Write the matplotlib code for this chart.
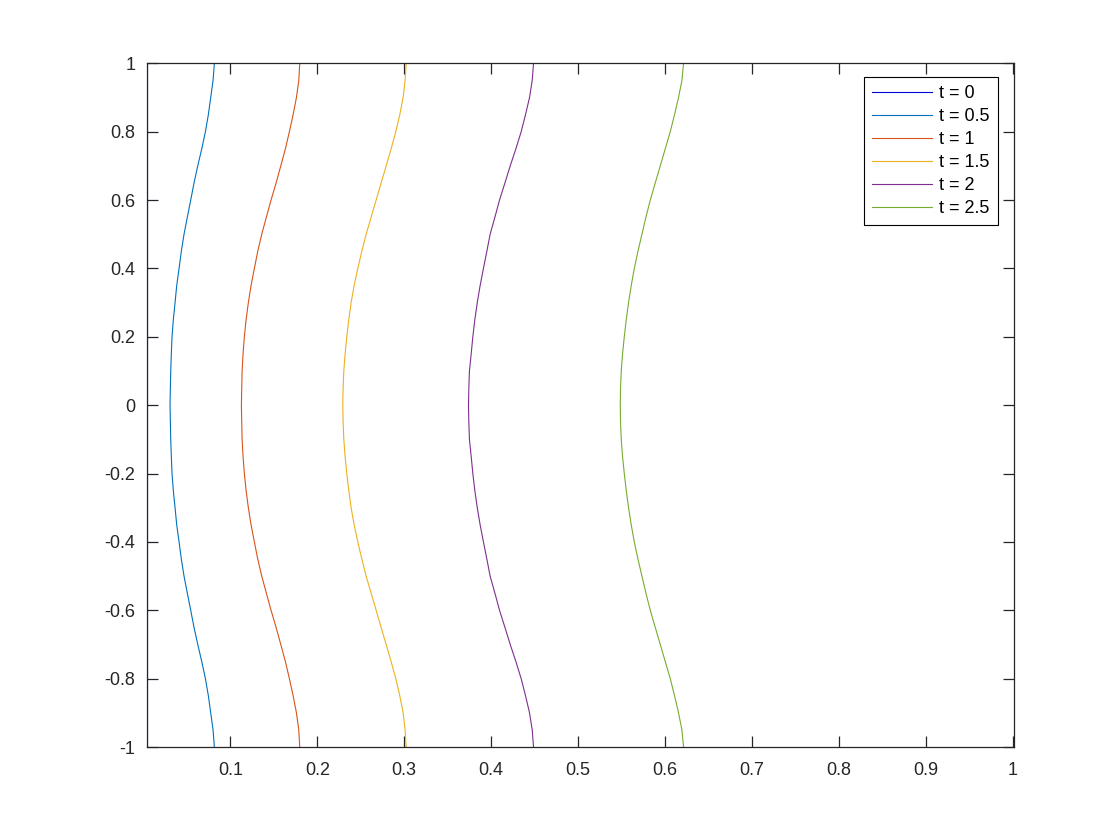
import matplotlib
matplotlib.use('Agg')
import matplotlib.pyplot as plt

plt.rcParams['font.family'] = ['Liberation Sans', 'DejaVu Sans']

# y positions (same for every curve)
y = [-1.0, -0.95, -0.9, -0.85, -0.8, -0.75, -0.7, -0.65, -0.6, -0.55, -0.5,
     -0.45, -0.4, -0.35, -0.3, -0.25, -0.2, -0.15, -0.1, -0.05, 0.0,
     0.05, 0.1, 0.15, 0.2, 0.25, 0.3, 0.35, 0.4, 0.45, 0.5,
     0.55, 0.6, 0.65, 0.7, 0.75, 0.8, 0.85, 0.9, 0.95, 1.0]

# x positions for each time
x_t0 = [0.0038] * 41
x_t05 = [0.0816, 0.0801, 0.0774, 0.0747, 0.0713, 0.0671, 0.0625, 0.0582, 0.0544, 0.0505, 0.0467,
         0.0436, 0.0410, 0.0383, 0.0364, 0.0344, 0.0329, 0.0321, 0.0314, 0.0310, 0.0306,
         0.0310, 0.0314, 0.0321, 0.0329, 0.0344, 0.0364, 0.0383, 0.0410, 0.0436, 0.0467,
         0.0505, 0.0544, 0.0582, 0.0625, 0.0671, 0.0713, 0.0747, 0.0774, 0.0801, 0.0816]
x_t1 = [0.1798, 0.1787, 0.1760, 0.1722, 0.1679, 0.1633, 0.1580, 0.1526, 0.1468, 0.1414, 0.1361,
        0.1315, 0.1276, 0.1238, 0.1207, 0.1181, 0.1161, 0.1146, 0.1135, 0.1131, 0.1127,
        0.1131, 0.1135, 0.1146, 0.1161, 0.1181, 0.1207, 0.1238, 0.1276, 0.1315, 0.1361,
        0.1414, 0.1468, 0.1526, 0.1580, 0.1633, 0.1679, 0.1722, 0.1760, 0.1787, 0.1798]
x_t15 = [0.3022, 0.3010, 0.2987, 0.2949, 0.2903, 0.2849, 0.2792, 0.2734, 0.2677, 0.2619, 0.2562,
         0.2512, 0.2466, 0.2424, 0.2389, 0.2362, 0.2339, 0.2320, 0.2305, 0.2297, 0.2293,
         0.2297, 0.2305, 0.2320, 0.2339, 0.2362, 0.2389, 0.2424, 0.2466, 0.2512, 0.2562,
         0.2619, 0.2677, 0.2734, 0.2792, 0.2849, 0.2903, 0.2949, 0.2987, 0.3010, 0.3022]
x_t2 = [0.4487, 0.4472, 0.4441, 0.4395, 0.4345, 0.4284, 0.4219, 0.4158, 0.4096, 0.4043, 0.3988,
        0.3950, 0.3911, 0.3873, 0.3840, 0.3812, 0.3789, 0.3770, 0.3750, 0.3743, 0.3739,
        0.3743, 0.3750, 0.3770, 0.3789, 0.3812, 0.3840, 0.3873, 0.3911, 0.3950, 0.3988,
        0.4043, 0.4096, 0.4158, 0.4219, 0.4284, 0.4345, 0.4395, 0.4441, 0.4472, 0.4487]
x_t25 = [0.6213, 0.6194, 0.6155, 0.6109, 0.6060, 0.6002, 0.5945, 0.5887, 0.5830, 0.5780, 0.5734,
         0.5688, 0.5646, 0.5611, 0.5580, 0.5554, 0.5531, 0.5511, 0.5496, 0.5488, 0.5485,
         0.5488, 0.5496, 0.5511, 0.5531, 0.5554, 0.5580, 0.5611, 0.5646, 0.5688, 0.5734,
         0.5780, 0.5830, 0.5887, 0.5945, 0.6002, 0.6060, 0.6109, 0.6155, 0.6194, 0.6213]

labels = ['t = 0', 't = 0.5', 't = 1', 't = 1.5', 't = 2', 't = 2.5']
colors = [(0, 0, 0.85), (0, 0.447, 0.741), (0.85, 0.325, 0.098),
          (0.929, 0.694, 0.125), (0.494, 0.184, 0.556), (0.466, 0.674, 0.188)]
curves = [x_t0, x_t05, x_t1, x_t15, x_t2, x_t25]

fig = plt.figure(figsize=(11.2, 8.4), dpi=100)
ax = fig.add_axes([0.131, 0.1107, 0.7747, 0.8139])

for xs, c, lab in zip(curves, colors, labels):
    ax.plot(xs, y, color=c, lw=0.8, label=lab)

ax.set_xlim(0.0038, 1.0018)
ax.set_ylim(-1, 1)
ax.set_xticks([0.1, 0.2, 0.3, 0.4, 0.5, 0.6, 0.7, 0.8, 0.9, 1.0])
ax.set_xticklabels(['0.1', '0.2', '0.3', '0.4', '0.5', '0.6', '0.7', '0.8', '0.9', '1'])
ax.set_yticks([-1, -0.8, -0.6, -0.4, -0.2, 0, 0.2, 0.4, 0.6, 0.8, 1])
ax.set_yticklabels(['-1', '-0.8', '-0.6', '-0.4', '-0.2', '0', '0.2', '0.4', '0.6', '0.8', '1'])

axcol = (0.15, 0.15, 0.15)
for s in ax.spines.values():
    s.set_color(axcol)
    s.set_linewidth(0.9)
ax.tick_params(direction='in', length=8, width=0.9, color=axcol, labelcolor=axcol,
               labelsize=13, top=True, right=True, pad=8)
ax.tick_params(axis='x', pad=11)

leg = ax.legend(loc='upper right', bbox_to_anchor=(0.981, 0.980), borderaxespad=0,
                fontsize=13, handlelength=3.3, handletextpad=0.4, labelspacing=0.33,
                fancybox=False, framealpha=1, edgecolor='black', borderpad=0.45)
leg.get_frame().set_linewidth(0.8)

fig.savefig('out.png', dpi=100)
